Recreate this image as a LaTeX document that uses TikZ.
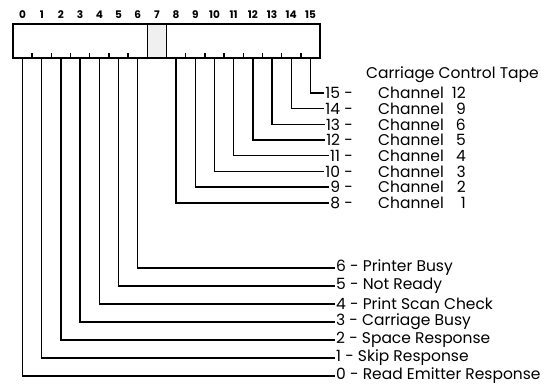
\documentclass[tikz,border=0pt]{standalone}
\usepackage{fontspec}
\setmainfont{Poppins}
\begin{document}
\begin{tikzpicture}[x=1pt,y=-1pt,
  wire/.style={line width=1.4pt},
  boxline/.style={line width=1.6pt},
  lbl/.style={font=\fontsize{15.5}{16}\selectfont, inner sep=1pt},
  bitnum/.style={font=\bfseries\fontsize{10.5}{11}\selectfont, inner sep=0pt}]
\useasboundingbox (0,0) rectangle (552,385);
\def\bw{19.19}
% register box
\fill[gray!12] (13+7*\bw,24) rectangle (13+8*\bw,58);
\draw[boxline] (13,24) rectangle (320,58);
\draw[boxline] (13+7*\bw,24) -- (13+7*\bw,58);
\draw[boxline] (13+8*\bw,24) -- (13+8*\bw,58);
\foreach \k in {1,...,6,9,10,...,15} \draw[wire] (13+\k*\bw,58) -- (13+\k*\bw,53);
% bit numbers and bottom coordinates
\foreach \k in {0,...,15} {
  \node[bitnum] (t\k) at (13+\k*\bw+0.5*\bw,15) {\k};
  \coordinate (b\k) at (13+\k*\bw+0.5*\bw,58);
}
% title
\node[lbl, anchor=west] (title) at (365,75) {Carriage Control Tape};
% channel rows
\foreach \k/\ch [count=\i from 0] in {15/12,14/9,13/6,12/5,11/4,10/3,9/2,8/1} {
  \pgfmathsetmacro\yy{93+15.7*\i}
  \node[lbl, anchor=east] (n\k) at (354,\yy) {\k\ -};
  \node[lbl, anchor=west] (c\k) at (377,\yy) {Channel};
  \node[lbl, anchor=east] (v\k) at (467,\yy) {\ch};
  \draw[wire] (b\k) |- (n\k.west);
}
% status rows
\foreach \k/\txt [count=\i from 0] in {6/Printer Busy,5/Not Ready,4/Print Scan Check,3/Carriage Busy,2/Space Response,1/Skip Response,0/Read Emitter Response} {
  \pgfmathsetmacro\yy{268+18*\i}
  \node[lbl, anchor=west] (s\k) at (335,\yy) {\k\ - \txt};
  \draw[wire] (b\k) |- (s\k.west);
}
\end{tikzpicture}
\end{document}
